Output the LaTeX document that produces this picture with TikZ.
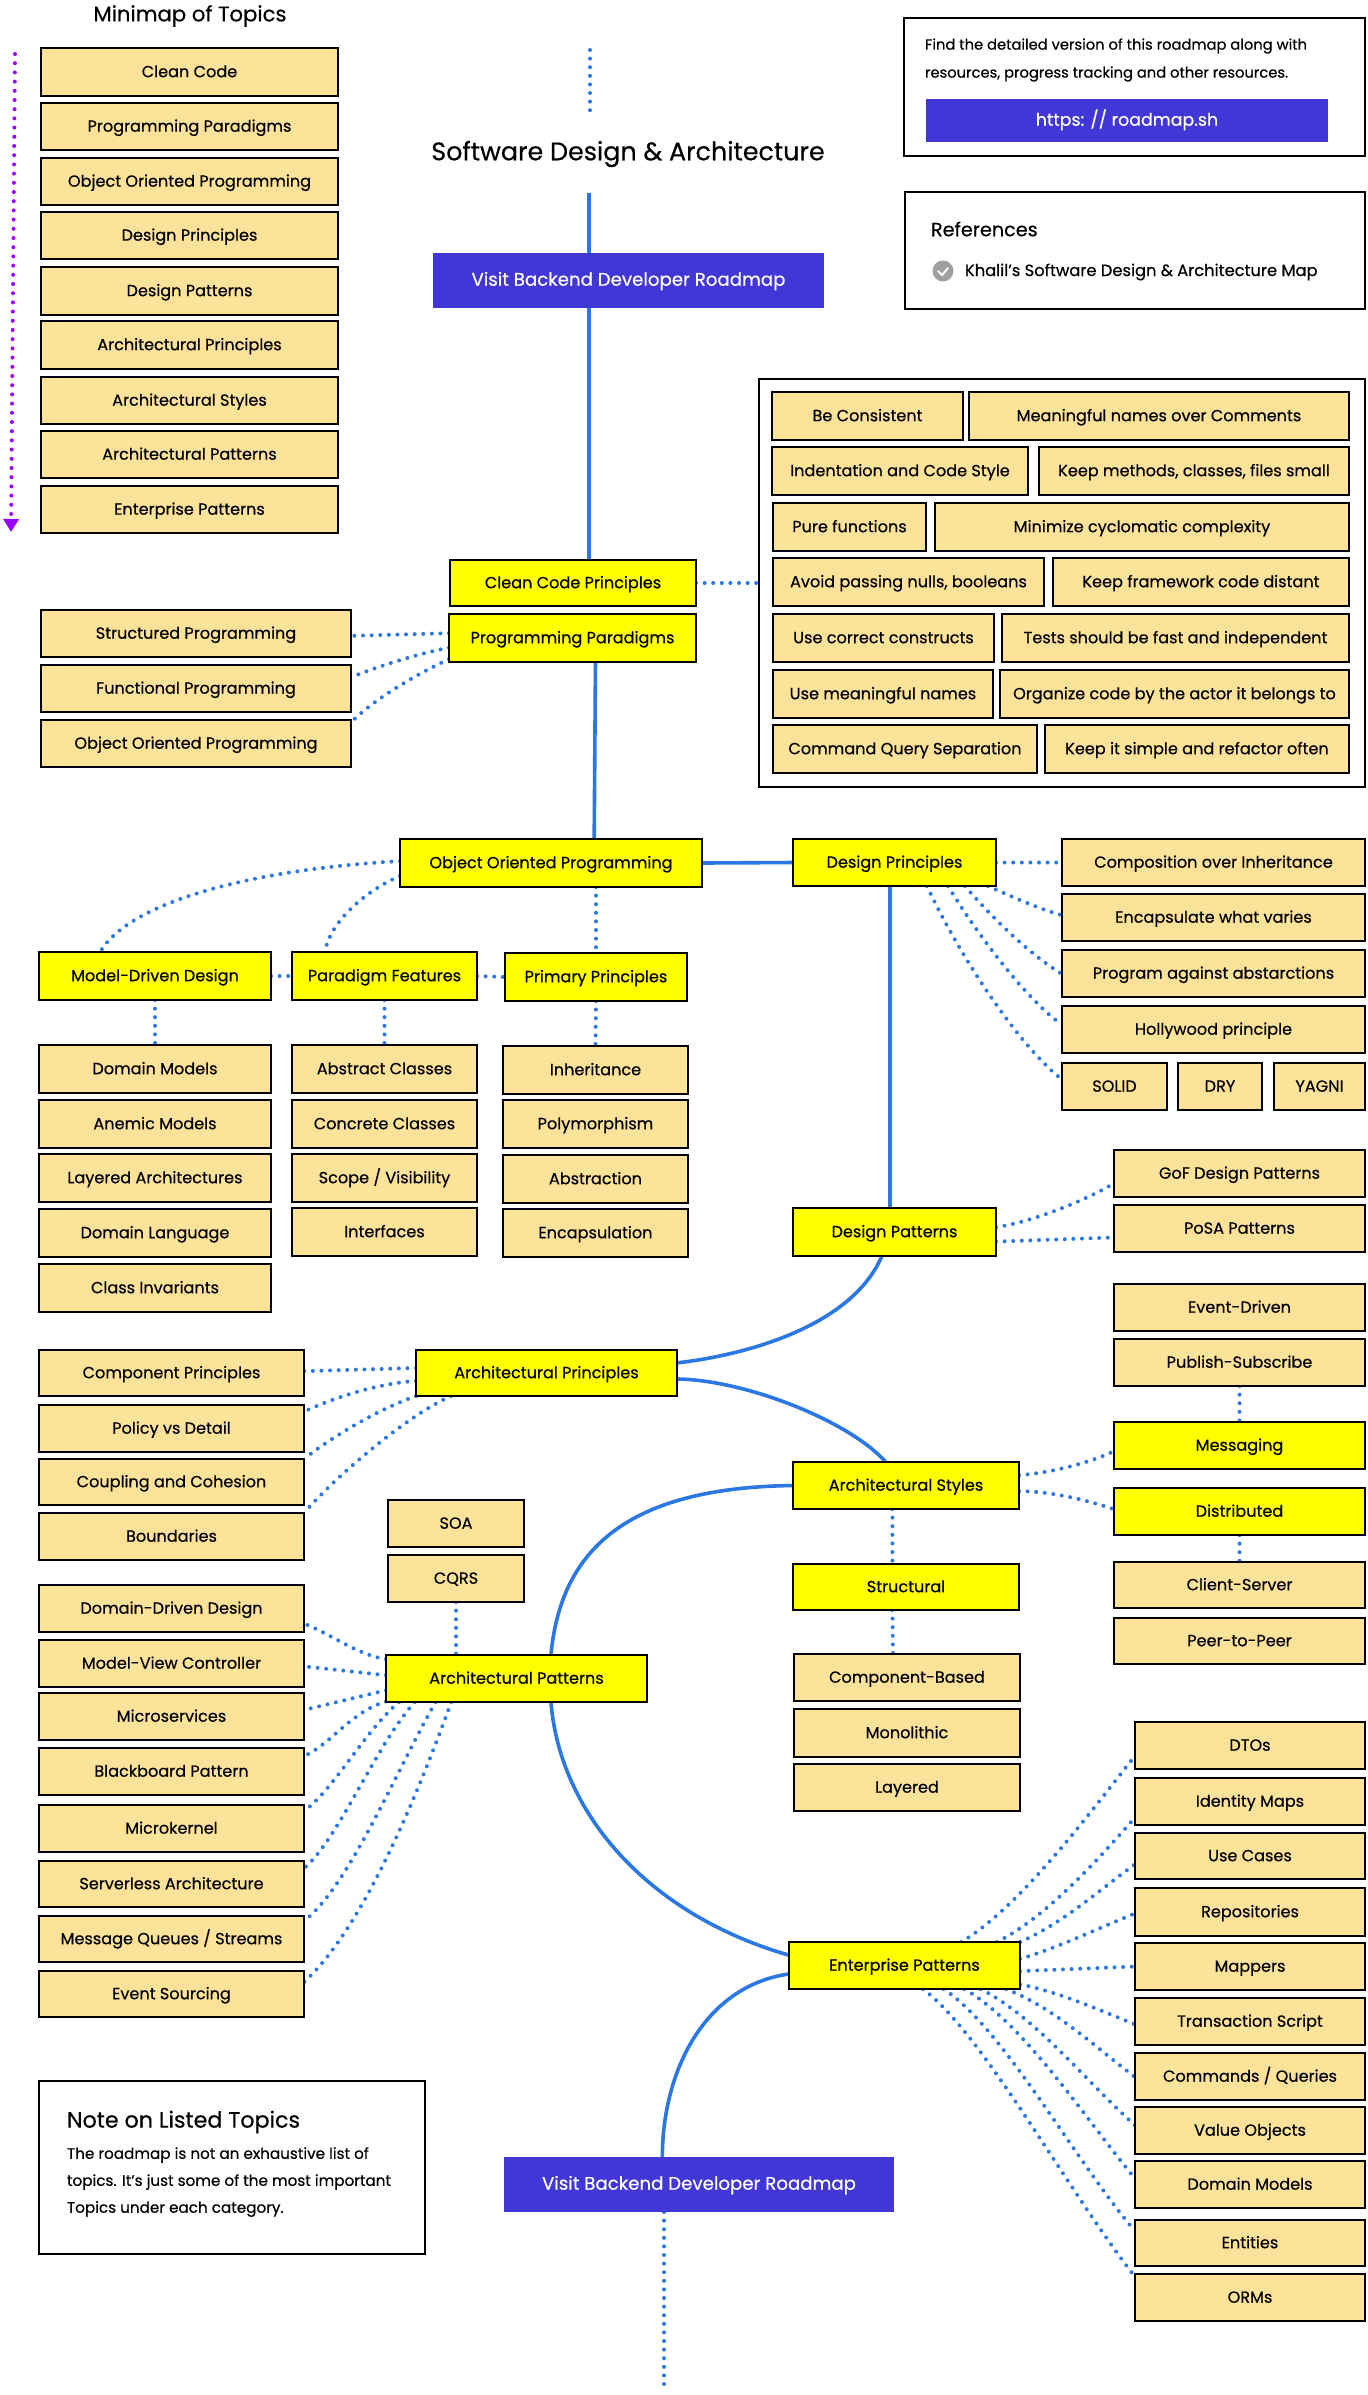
\documentclass[tikz,border=0pt]{standalone}
\usepackage{fontspec}
\setmainfont{Poppins}[RawFeature={embolden=0.45}]
\usetikzlibrary{calc,backgrounds,arrows.meta}
\definecolor{leaffill}{HTML}{FDE299}
\definecolor{hubfill}{HTML}{FFFF00}
\definecolor{navfill}{HTML}{4136D6}
\definecolor{linkblue}{HTML}{2B78E4}
\definecolor{minipurple}{HTML}{9900FF}
\definecolor{checkgray}{HTML}{A0A0A0}
\newcommand\atN[2]{($(#1.north west)!#2!(#1.north east)$)}
\newcommand\atS[2]{($(#1.south west)!#2!(#1.south east)$)}
\newcommand\atW[2]{($(#1.north west)!#2!(#1.south west)$)}
\newcommand\atE[2]{($(#1.north east)!#2!(#1.south east)$)}
\newcommand\markpt[4]{\expandafter\path\csname at#2\endcsname{#1}{#3} coordinate (#4);}
\newcommand\curvelink[9]{\markpt{#2}{#3}{#4}{pa}\markpt{#5}{#6}{#7}{pb}\draw[#1] (pa) .. controls +(#8) and +(#9) .. (pb);}
\newcommand\straightlink[7]{\markpt{#2}{#3}{#4}{pa}\markpt{#5}{#6}{#7}{pb}\draw[#1] (pa) -- (pb);}
\newcommand\bx[7]{\pgfmathsetmacro\bxw{(#5-#3)*0.5}\pgfmathsetmacro\bxh{(#6-#4)*0.5}\node[#1,minimum width=\bxw pt,minimum height=\bxh pt] (#2) at ({(#3+#5)/2},{(#4+#6)/2}) {#7};}
\tikzset{
  basebox/.style={inner sep=0pt,outer sep=0pt,text height=6.4pt,text depth=1.2pt,font=\fontsize{8.05}{9}\selectfont},
  leafbox/.style={basebox,draw=black,line width=1.15pt,fill=leaffill},
  hubbox/.style={basebox,draw=black,line width=1.15pt,fill=hubfill},
  navbox/.style={basebox,fill=navfill,text=white,font=\fontsize{9.1}{10}\selectfont},
  framebox/.style={draw=black,line width=1.15pt,inner sep=0pt,outer sep=0pt},
  txtbig/.style={inner sep=0pt,outer sep=0pt,font=\fontsize{12.7}{14}\selectfont},
  txtmid/.style={inner sep=0pt,outer sep=0pt,anchor=west,font=\fontsize{9.6}{11}\selectfont},
  txtsmall/.style={inner sep=0pt,outer sep=0pt,anchor=west,font=\fontsize{7.35}{9}\selectfont},
  dotl/.style={draw=linkblue,line width=2pt,line cap=round,dash pattern=on 0pt off 4.3pt},
  solidl/.style={draw=linkblue,line width=1.8pt},
  minil/.style={draw=minipurple,line width=2pt,line cap=round,dash pattern=on 0pt off 4.6pt,-{Triangle[length=6.5pt,width=7.5pt]}}
}
\begin{document}
\begin{tikzpicture}[x=0.5pt,y=-0.5pt]
\useasboundingbox (0,0) rectangle (1367,2395);
% titles
\node[txtbig,font=\fontsize{10.6}{13}\selectfont] (minititle) at (190,16) {Minimap of Topics};
\node[txtbig] (maintitle) at (628,154) {Software Design \& Architecture};
% minimap
\bx{leafbox}{m1}{41}{48}{338}{96}{Clean Code}
\bx{leafbox}{m2}{41}{103}{338}{150}{Programming Paradigms}
\bx{leafbox}{m3}{41}{158}{338}{205}{Object Oriented Programming}
\bx{leafbox}{m4}{41}{212}{338}{259}{Design Principles}
\bx{leafbox}{m5}{41}{267}{338}{315}{Design Patterns}
\bx{leafbox}{m6}{41}{321}{338}{369}{Architectural Principles}
\bx{leafbox}{m7}{41}{377}{338}{424}{Architectural Styles}
\bx{leafbox}{m8}{41}{431}{338}{478}{Architectural Patterns}
\bx{leafbox}{m9}{41}{486}{338}{533}{Enterprise Patterns}
\coordinate (mtop) at (15,54);
\coordinate (mend) at (11,532);
\coordinate (ttop) at (590,50);
\coordinate (tbot) at (590,117);
\coordinate (tsol) at (589,193);
\coordinate (bend) at (664,2390);
% top right
\bx{framebox}{findbox}{904}{18}{1365}{156}{}
\node[txtsmall] (find1) at (925,46) {Find the detailed version of this roadmap along with};
\node[txtsmall] (find2) at (925,74) {resources, progress tracking and other resources.};
\bx{navbox}{urlbtn}{926}{99}{1328}{142}{\fontsize{8.7}{10}\selectfont https: // roadmap.sh}
\bx{framebox}{refbox}{905}{192}{1365}{309}{}
\node[txtmid] (reftitle) at (931,229) {References};
\node[circle,fill=checkgray,inner sep=0pt,minimum size=10.5pt] (chk) at (943,271) {};
\node[txtsmall,font=\fontsize{8.15}{10}\selectfont] (reftext) at (965,272) {Khalil's Software Design \& Architecture Map};
\draw[white,line width=1pt,line cap=round] ([shift={(-5,0)}]chk.center) -- ([shift={(-1,4)}]chk.center) -- ([shift={(5,-3)}]chk.center);
% main hubs
\bx{navbox}{visita}{433}{253}{824}{308}{Visit Backend Developer Roadmap}
\bx{hubbox}{ccp}{450}{560}{696}{606}{Clean Code Principles}
\bx{hubbox}{pp}{449}{614}{696}{662}{Programming Paradigms}
% clean code frame
\bx{framebox}{bigbox}{759}{379}{1365}{787}{}
\bx{leafbox}{c1a}{772}{392}{963}{440}{Be Consistent}
\bx{leafbox}{c1b}{969}{392}{1349}{440}{Meaningful names over Comments}
\bx{leafbox}{c2a}{772}{447}{1028}{495}{Indentation and Code Style}
\bx{leafbox}{c2b}{1039}{447}{1349}{495}{Keep methods, classes, files small}
\bx{leafbox}{c3a}{773}{503}{926}{551}{Pure functions}
\bx{leafbox}{c3b}{935}{503}{1349}{551}{Minimize cyclomatic complexity}
\bx{leafbox}{c4a}{773}{558}{1044}{606}{Avoid passing nulls, booleans}
\bx{leafbox}{c4b}{1053}{558}{1349}{606}{Keep framework code distant}
\bx{leafbox}{c5a}{773}{614}{994}{662}{Use correct constructs}
\bx{leafbox}{c5b}{1002}{614}{1349}{662}{Tests should be fast and independent}
\bx{leafbox}{c6a}{773}{670}{993}{718}{Use meaningful names}
\bx{leafbox}{c6b}{1000}{670}{1349}{718}{Organize code by the actor it belongs to}
\bx{leafbox}{c7a}{773}{725}{1037}{773}{Command Query Separation}
\bx{leafbox}{c7b}{1045}{725}{1349}{773}{Keep it simple and refactor often}
% paradigms
\bx{leafbox}{sp}{41}{610}{351}{657}{Structured Programming}
\bx{leafbox}{fp}{41}{665}{351}{712}{Functional Programming}
\bx{leafbox}{op}{41}{720}{351}{767}{Object Oriented Programming}
% OOP
\bx{hubbox}{oop}{400}{839}{702}{887}{Object Oriented Programming}
\bx{hubbox}{md}{39}{952}{271}{1000}{Model-Driven Design}
\bx{hubbox}{pf}{292}{952}{477}{1000}{Paradigm Features}
\bx{hubbox}{prim}{505}{953}{687}{1001}{Primary Principles}
\bx{leafbox}{d1}{39}{1045}{271}{1093}{Domain Models}
\bx{leafbox}{d2}{39}{1100}{271}{1148}{Anemic Models}
\bx{leafbox}{d3}{39}{1154}{271}{1202}{Layered Architectures}
\bx{leafbox}{d4}{39}{1209}{271}{1257}{Domain Language}
\bx{leafbox}{d5}{39}{1264}{271}{1312}{Class Invariants}
\bx{leafbox}{f1}{292}{1045}{477}{1093}{Abstract Classes}
\bx{leafbox}{f2}{292}{1100}{477}{1148}{Concrete Classes}
\bx{leafbox}{f3}{292}{1154}{477}{1202}{Scope / Visibility}
\bx{leafbox}{f4}{292}{1208}{477}{1256}{Interfaces}
\bx{leafbox}{g1}{503}{1046}{688}{1094}{Inheritance}
\bx{leafbox}{g2}{503}{1100}{688}{1148}{Polymorphism}
\bx{leafbox}{g3}{503}{1155}{688}{1203}{Abstraction}
\bx{leafbox}{g4}{503}{1209}{688}{1257}{Encapsulation}
% design principles
\bx{hubbox}{dp}{793}{839}{996}{886}{Design Principles}
\bx{leafbox}{dpa}{1062}{839}{1365}{886}{Composition over Inheritance}
\bx{leafbox}{dpb}{1062}{894}{1365}{941}{Encapsulate what varies}
\bx{leafbox}{dpc}{1062}{950}{1365}{997}{Program against abstarctions}
\bx{leafbox}{dpd}{1062}{1006}{1365}{1053}{Hollywood principle}
\bx{leafbox}{solid}{1062}{1063}{1167}{1110}{SOLID}
\bx{leafbox}{dry}{1178}{1063}{1262}{1110}{DRY}
\bx{leafbox}{yagni}{1274}{1063}{1365}{1110}{YAGNI}
% design patterns
\bx{hubbox}{dpt}{793}{1208}{996}{1256}{Design Patterns}
\bx{leafbox}{gof}{1114}{1150}{1365}{1197}{GoF Design Patterns}
\bx{leafbox}{posa}{1114}{1205}{1365}{1252}{PoSA Patterns}
% styles
\bx{leafbox}{evd}{1114}{1284}{1365}{1331}{Event-Driven}
\bx{leafbox}{pubs}{1114}{1339}{1365}{1386}{Publish-Subscribe}
\bx{hubbox}{msg}{1114}{1422}{1365}{1469}{Messaging}
\bx{hubbox}{dist}{1114}{1488}{1365}{1535}{Distributed}
\bx{leafbox}{cs}{1114}{1562}{1365}{1608}{Client-Server}
\bx{leafbox}{p2p}{1114}{1618}{1365}{1664}{Peer-to-Peer}
\bx{hubbox}{sty}{793}{1462}{1019}{1509}{Architectural Styles}
\bx{hubbox}{st}{793}{1564}{1019}{1610}{Structural}
\bx{leafbox}{cb}{794}{1654}{1020}{1701}{Component-Based}
\bx{leafbox}{mono}{794}{1709}{1020}{1757}{Monolithic}
\bx{leafbox}{lay}{794}{1764}{1020}{1811}{Layered}
% arch principles
\bx{hubbox}{apr}{416}{1350}{677}{1396}{Architectural Principles}
\bx{leafbox}{a1}{39}{1350}{304}{1396}{Component Principles}
\bx{leafbox}{a2}{39}{1405}{304}{1452}{Policy vs Detail}
\bx{leafbox}{a3}{39}{1459}{304}{1505}{Coupling and Cohesion}
\bx{leafbox}{a4}{39}{1513}{304}{1560}{Boundaries}
% arch patterns
\bx{leafbox}{soa}{388}{1500}{524}{1547}{SOA}
\bx{leafbox}{cqrs}{388}{1555}{524}{1602}{CQRS}
\bx{hubbox}{apat}{386}{1655}{647}{1702}{Architectural Patterns}
\bx{leafbox}{b1}{39}{1585}{304}{1632}{Domain-Driven Design}
\bx{leafbox}{b2}{39}{1640}{304}{1687}{Model-View Controller}
\bx{leafbox}{b3}{39}{1693}{304}{1740}{Microservices}
\bx{leafbox}{b4}{39}{1748}{304}{1795}{Blackboard Pattern}
\bx{leafbox}{b5}{39}{1805}{304}{1852}{Microkernel}
\bx{leafbox}{b6}{39}{1861}{304}{1907}{Serverless Architecture}
\bx{leafbox}{b7}{39}{1916}{304}{1962}{Message Queues / Streams}
\bx{leafbox}{b8}{39}{1971}{304}{2017}{Event Sourcing}
% note
\bx{framebox}{notebox}{39}{2081}{425}{2254}{}
\node[txtmid,font=\fontsize{11.1}{13}\selectfont] (notetitle) at (67,2122) {Note on Listed Topics};
\node[txtsmall,font=\fontsize{7.6}{9}\selectfont] (note1) at (67,2155) {The roadmap is not an exhaustive list of};
\node[txtsmall,font=\fontsize{7.6}{9}\selectfont] (note2) at (67,2182) {topics. It's just some of the most important};
\node[txtsmall,font=\fontsize{7.6}{9}\selectfont] (note3) at (67,2209) {Topics under each category.};
% enterprise
\bx{hubbox}{ep}{789}{1942}{1020}{1989}{Enterprise Patterns}
\bx{navbox}{visitb}{504}{2157}{894}{2212}{Visit Backend Developer Roadmap}
\bx{leafbox}{e1}{1135}{1722}{1365}{1769}{DTOs}
\bx{leafbox}{e2}{1135}{1778}{1365}{1825}{Identity Maps}
\bx{leafbox}{e3}{1135}{1833}{1365}{1879}{Use Cases}
\bx{leafbox}{e4}{1135}{1888}{1365}{1936}{Repositories}
\bx{leafbox}{e5}{1135}{1943}{1365}{1990}{Mappers}
\bx{leafbox}{e6}{1135}{1998}{1365}{2045}{Transaction Script}
\bx{leafbox}{e7}{1135}{2053}{1365}{2100}{Commands / Queries}
\bx{leafbox}{e8}{1135}{2107}{1365}{2154}{Value Objects}
\bx{leafbox}{e9}{1135}{2161}{1365}{2208}{Domain Models}
\bx{leafbox}{e10}{1135}{2220}{1365}{2266}{Entities}
\bx{leafbox}{e11}{1135}{2274}{1365}{2321}{ORMs}
% connectors
\begin{scope}[on background layer]
\draw[minil] (mtop) -- (mend);
\draw[dotl] (ttop) -- (tbot);
\draw[solidl] (tsol) -- (tsol |- ccp.north);
\draw[dotl] (ccp.east) -- (bigbox.west |- ccp.east);
\straightlink{solidl}{pp}{S}{.593}{oop}{N}{.643}
\straightlink{dotl}{pp}{W}{.4}{sp}{E}{.55}
\curvelink{dotl}{pp}{W}{.7}{fp}{E}{.26}{-30,6}{30,-12}
\curvelink{dotl}{pp}{W}{.94}{op}{E}{.05}{-30,14}{25,-25}
\curvelink{dotl}{oop}{W}{.46}{md}{N}{.263}{-145,8}{30,-51}
\curvelink{dotl}{oop}{W}{.77}{pf}{N}{.178}{-35,15}{5,-30}
\draw[dotl] (prim.north |- oop.south) -- (prim.north);
\draw[dotl] (md.east) -- (pf.west);
\draw[dotl] (pf.east) -- (prim.west);
\draw[dotl] (md.south) -- (d1.north);
\draw[dotl] (pf.south) -- (f1.north);
\draw[dotl] (prim.south) -- (g1.north);
\draw[solidl] (oop.east) -- (dp.west);
\straightlink{solidl}{dp}{S}{.478}{dpt}{N}{.478}
\draw[dotl] (dp.east) -- (dpa.west);
\curvelink{dotl}{dp}{S}{.96}{dpb}{W}{.45}{20,9}{-20,-5}
\curvelink{dotl}{dp}{S}{.847}{dpc}{W}{.51}{30,35}{-30,-18}
\curvelink{dotl}{dp}{S}{.764}{dpd}{W}{.40}{30,50}{-35,-25}
\curvelink{dotl}{dp}{S}{.66}{solid}{W}{.35}{30,65}{-45,-35}
\curvelink{dotl}{dpt}{E}{.4}{gof}{W}{.71}{40,-6}{-25,15}
\straightlink{dotl}{dpt}{E}{.7}{posa}{W}{.69}
\curvelink{solidl}{dpt}{S}{.438}{apr}{E}{.28}{-30,70}{70,-8}
\curvelink{solidl}{apr}{E}{.63}{sty}{N}{.41}{70,1}{-35,-40}
\curvelink{solidl}{sty}{W}{.5}{apat}{N}{.632}{-160,2}{10,-110}
\curvelink{solidl}{apat}{S}{.632}{ep}{W}{.28}{9,113}{-139,-40}
\curvelink{solidl}{ep}{W}{.68}{visitb}{N}{.406}{-85,12}{0,-85}
\draw[dotl] (bend |- visitb.south) -- (bend);
\straightlink{dotl}{apr}{W}{.39}{a1}{E}{.46}
\curvelink{dotl}{apr}{W}{.67}{a2}{E}{.14}{-40,3}{30,-14}
\curvelink{dotl}{apr}{W}{1}{a3}{E}{0}{-40,14}{25,-20}
\curvelink{dotl}{apr}{S}{.134}{a4}{E}{0}{-45,20}{30,-35}
\draw[dotl] (cqrs.south) -- (cqrs.south |- apat.north);
\curvelink{dotl}{apat}{W}{.09}{b1}{E}{.82}{-30,-5}{30,12}
\straightlink{dotl}{apat}{W}{.43}{b2}{E}{.56}
\straightlink{dotl}{apat}{W}{.75}{b3}{E}{.36}
\curvelink{dotl}{apat}{W}{.99}{b4}{E}{.17}{-35,10}{25,-10}
\curvelink{dotl}{apat}{S}{.05}{b5}{E}{.13}{-35,30}{30,-22}
\curvelink{dotl}{apat}{S}{.11}{b6}{E}{.16}{-40,45}{35,-30}
\curvelink{dotl}{apat}{S}{.19}{b7}{E}{.11}{-40,70}{45,-35}
\curvelink{dotl}{apat}{S}{.25}{b8}{E}{.24}{-40,110}{55,-50}
\curvelink{dotl}{sty}{E}{.28}{msg}{W}{.62}{30,-2}{-25,12}
\curvelink{dotl}{sty}{E}{.62}{dist}{W}{.45}{30,0}{-30,-10}
\draw[dotl] (pubs.south) -- (msg.north);
\draw[dotl] (dist.south) -- (cs.north);
\straightlink{dotl}{sty}{S}{.44}{st}{N}{.44}
\straightlink{dotl}{st}{S}{.44}{cb}{N}{.438}
\curvelink{dotl}{ep}{N}{.745}{e1}{W}{.72}{60,-35}{-40,50}
\curvelink{dotl}{ep}{N}{.90}{e2}{W}{.84}{50,-25}{-35,40}
\curvelink{dotl}{ep}{E}{0}{e3}{W}{.68}{45,-20}{-35,25}
\curvelink{dotl}{ep}{E}{.36}{e4}{W}{.53}{40,-12}{-35,14}
\straightlink{dotl}{ep}{E}{.62}{e5}{W}{.5}
\curvelink{dotl}{ep}{E}{.9}{e6}{W}{.56}{40,8}{-35,-14}
\curvelink{dotl}{ep}{S}{.94}{e7}{W}{.51}{50,20}{-40,-30}
\curvelink{dotl}{ep}{S}{.83}{e8}{W}{.39}{55,28}{-50,-45}
\curvelink{dotl}{ep}{S}{.76}{e9}{W}{.37}{60,35}{-50,-60}
\curvelink{dotl}{ep}{S}{.67}{e10}{W}{.24}{60,40}{-60,-70}
\curvelink{dotl}{ep}{S}{.58}{e11}{W}{.06}{60,45}{-70,-90}
\end{scope}
\end{tikzpicture}
\end{document}
